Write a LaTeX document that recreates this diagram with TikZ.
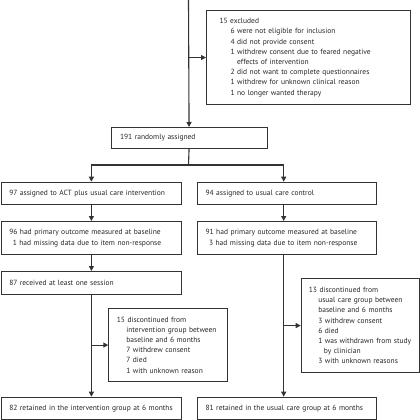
\documentclass[tikz,border=0pt]{standalone}
\usepackage{fontspec}
\setmainfont{PT Sans}
\usetikzlibrary{arrows.meta}
\definecolor{linec}{HTML}{333333}
\definecolor{textc}{HTML}{262626}
\tikzset{
  box/.style={draw=linec, line width=1.1pt, inner xsep=8pt, inner ysep=0pt,
    align=left, anchor=north west, text=textc,
    font=\fontsize{7.5}{10.2}\selectfont},
  conn/.style={draw=linec, line width=1.1pt},
  arr/.style={conn, -{Triangle[length=5pt,width=5pt]}}
}
\newcommand{\ind}[1]{\hspace*{#1}}
\begin{document}
\begin{tikzpicture}[x=1pt,y=-1pt]
\useasboundingbox (0,0) rectangle (420,420);
\coordinate (top) at (188.5,0);
\coordinate (rc) at (283.7,0);
\node[box, inner xsep=13pt, minimum width=204pt, minimum height=94pt, text width=178pt] (excl) at (206,10)
 {15 excluded\\
  \ind{11pt}6 were not eligible for inclusion\\
  \ind{11pt}4 did not provide consent\\
  \ind{11pt}1 withdrew consent due to feared negative\\
  \ind{17.5pt}effects of intervention\\
  \ind{11pt}2 did not want to complete questionnaires\\
  \ind{11pt}1 withdrew for unknown clinical reason\\
  \ind{11pt}1 no longer wanted therapy};
\node[box, inner xsep=9pt, minimum width=156pt, minimum height=21pt, text width=138pt] (rand) at (110.5,127) {191 randomly assigned};
\node[box, minimum width=180.3pt, minimum height=22.3pt, text width=164.3pt] (int) at (0.7,181.7) {97 assigned to ACT plus usual care intervention};
\node[box, minimum width=178.7pt, minimum height=22.3pt, text width=162.7pt] (ctrl) at (197,181.7) {94 assigned to usual care control};
\node[box, minimum width=180.3pt, minimum height=33pt, text width=164.3pt] (base1) at (0.7,221)
 {96 had primary outcome measured at baseline\\ \ind{3.5pt}1 had missing data due to item non-response};
\node[box, minimum width=178.7pt, minimum height=33pt, text width=162.7pt] (base2) at (197,221)
 {91 had primary outcome measured at baseline\\ \ind{3.5pt}3 had missing data due to item non-response};
\node[box, minimum width=180.3pt, minimum height=23.3pt, text width=164.3pt] (sess) at (0.7,271) {87 received at least one session};
\node[box, minimum width=118.7pt, minimum height=72.4pt, text width=102.7pt] (disc1) at (108.3,308.3)
 {15 discontinued from\\
  \ind{9.5pt}intervention group between\\
  \ind{9.5pt}baseline and 6 months\\
  \ind{9.5pt}7 withdrew consent\\
  \ind{9.5pt}7 died\\
  \ind{9.5pt}1 with unknown reason};
\node[box, inner xsep=7.6pt, minimum width=118.6pt, minimum height=93.4pt, text width=103.4pt] (disc2) at (300.7,278.3)
 {13 discontinued from\\
  \ind{9.4pt}usual care group between\\
  \ind{9.4pt}baseline and 6 months\\
  \ind{9.4pt}3 withdrew consent\\
  \ind{9.4pt}6 died\\
  \ind{9.4pt}1 was withdrawn from study\\
  \ind{15pt}by clinician\\
  \ind{9.4pt}3 with unknown reasons};
\node[box, minimum width=180.3pt, minimum height=22.6pt, text width=164.3pt] (ret1) at (0.7,396.7) {82 retained in the intervention group at 6 months};
\node[box, minimum width=178.7pt, minimum height=22.6pt, text width=162.7pt] (ret2) at (197,396.7) {81 retained in the usual care group at 6 months};
% connectors
\draw[arr] (top) -- (rand.north);
\draw[arr] (top |- excl.west) -- (excl.west);
\coordinate (split) at (188.5,165);
\draw[conn] (rand.south) -- (split);
\draw[conn] (int.north |- split) -- (rc |- split);
\draw[arr] (int.north |- split) -- (int.north);
\draw[arr] (rc |- split) -- (rc |- ctrl.north);
\draw[arr] (int.south) -- (base1.north);
\draw[arr] (rc |- ctrl.south) -- (rc |- base2.north);
\draw[arr] (base1.south) -- (sess.north);
\draw[arr] (sess.south) -- (ret1.north);
\draw[arr] (sess.south |- disc1.west) -- (disc1.west);
\draw[arr] (rc |- base2.south) -- (rc |- ret2.north);
\draw[arr] (rc |- disc2.west) -- (disc2.west);
\end{tikzpicture}
\end{document}
